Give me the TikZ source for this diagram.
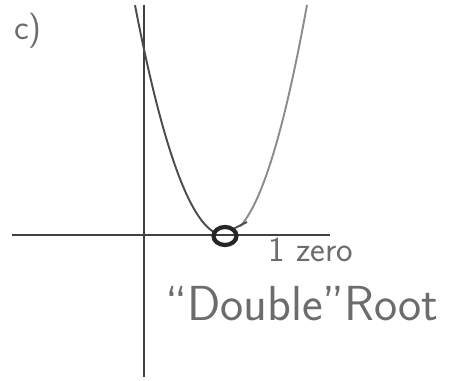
\documentclass[tikz,border=0pt]{standalone}
\usepackage{xcolor}
\usepackage{tikz}
\usetikzlibrary{positioning,shapes.geometric}

\tikzset{
  axisline/.style={line width=1.6pt, black!75},
  handtext/.style={gray!85!black, font=\sffamily},
}

\begin{document}
\begin{tikzpicture}[x=0.02cm, y=-0.02cm]
		\useasboundingbox (0, 0) rectangle (457, 381);

		% 坐标轴
		\coordinate (xl) at (12, 235);
		\coordinate (xr) at (330, 235);
		\coordinate (yt) at (144, 5);
		\coordinate (yb) at (144, 377);
		\draw[axisline] (xl) -- (xr);
		\draw[axisline] (yt) -- (yb);

		% 抛物线 (左右两支)
		\draw[line width=1.1pt, black!70, domain=135:213, samples=60] plot (\x, {235 - 0.029*(\x-224)*(\x-224)});
		\draw[line width=1.1pt, black!45, domain=240:307, samples=60] plot (\x, {235 - 0.0334*(\x-224)*(\x-224)});

		% 切点
		\node[draw=black!85, line width=2.4pt, ellipse, minimum width=0.46cm, minimum height=0.36cm, inner sep=0pt] (dbl) at (225, 236) {};
		\coordinate (tick) at (247, 222);
		\draw[line width=1.1pt, black!70] (dbl.north east) -- (tick);

		% 标注
		\node[handtext, font=\sffamily\fontsize{20}{24}\selectfont] (lbl) at (28, 31) {c)};
		\node[handtext, font=\sffamily\fontsize{20}{24}\selectfont] (zero) at (311, 250) {1 zero};
		\node[handtext, font=\sffamily\fontsize{28}{33}\selectfont] (root) at (302, 304) {``Double''Root};
	\end{tikzpicture}
\end{document}
